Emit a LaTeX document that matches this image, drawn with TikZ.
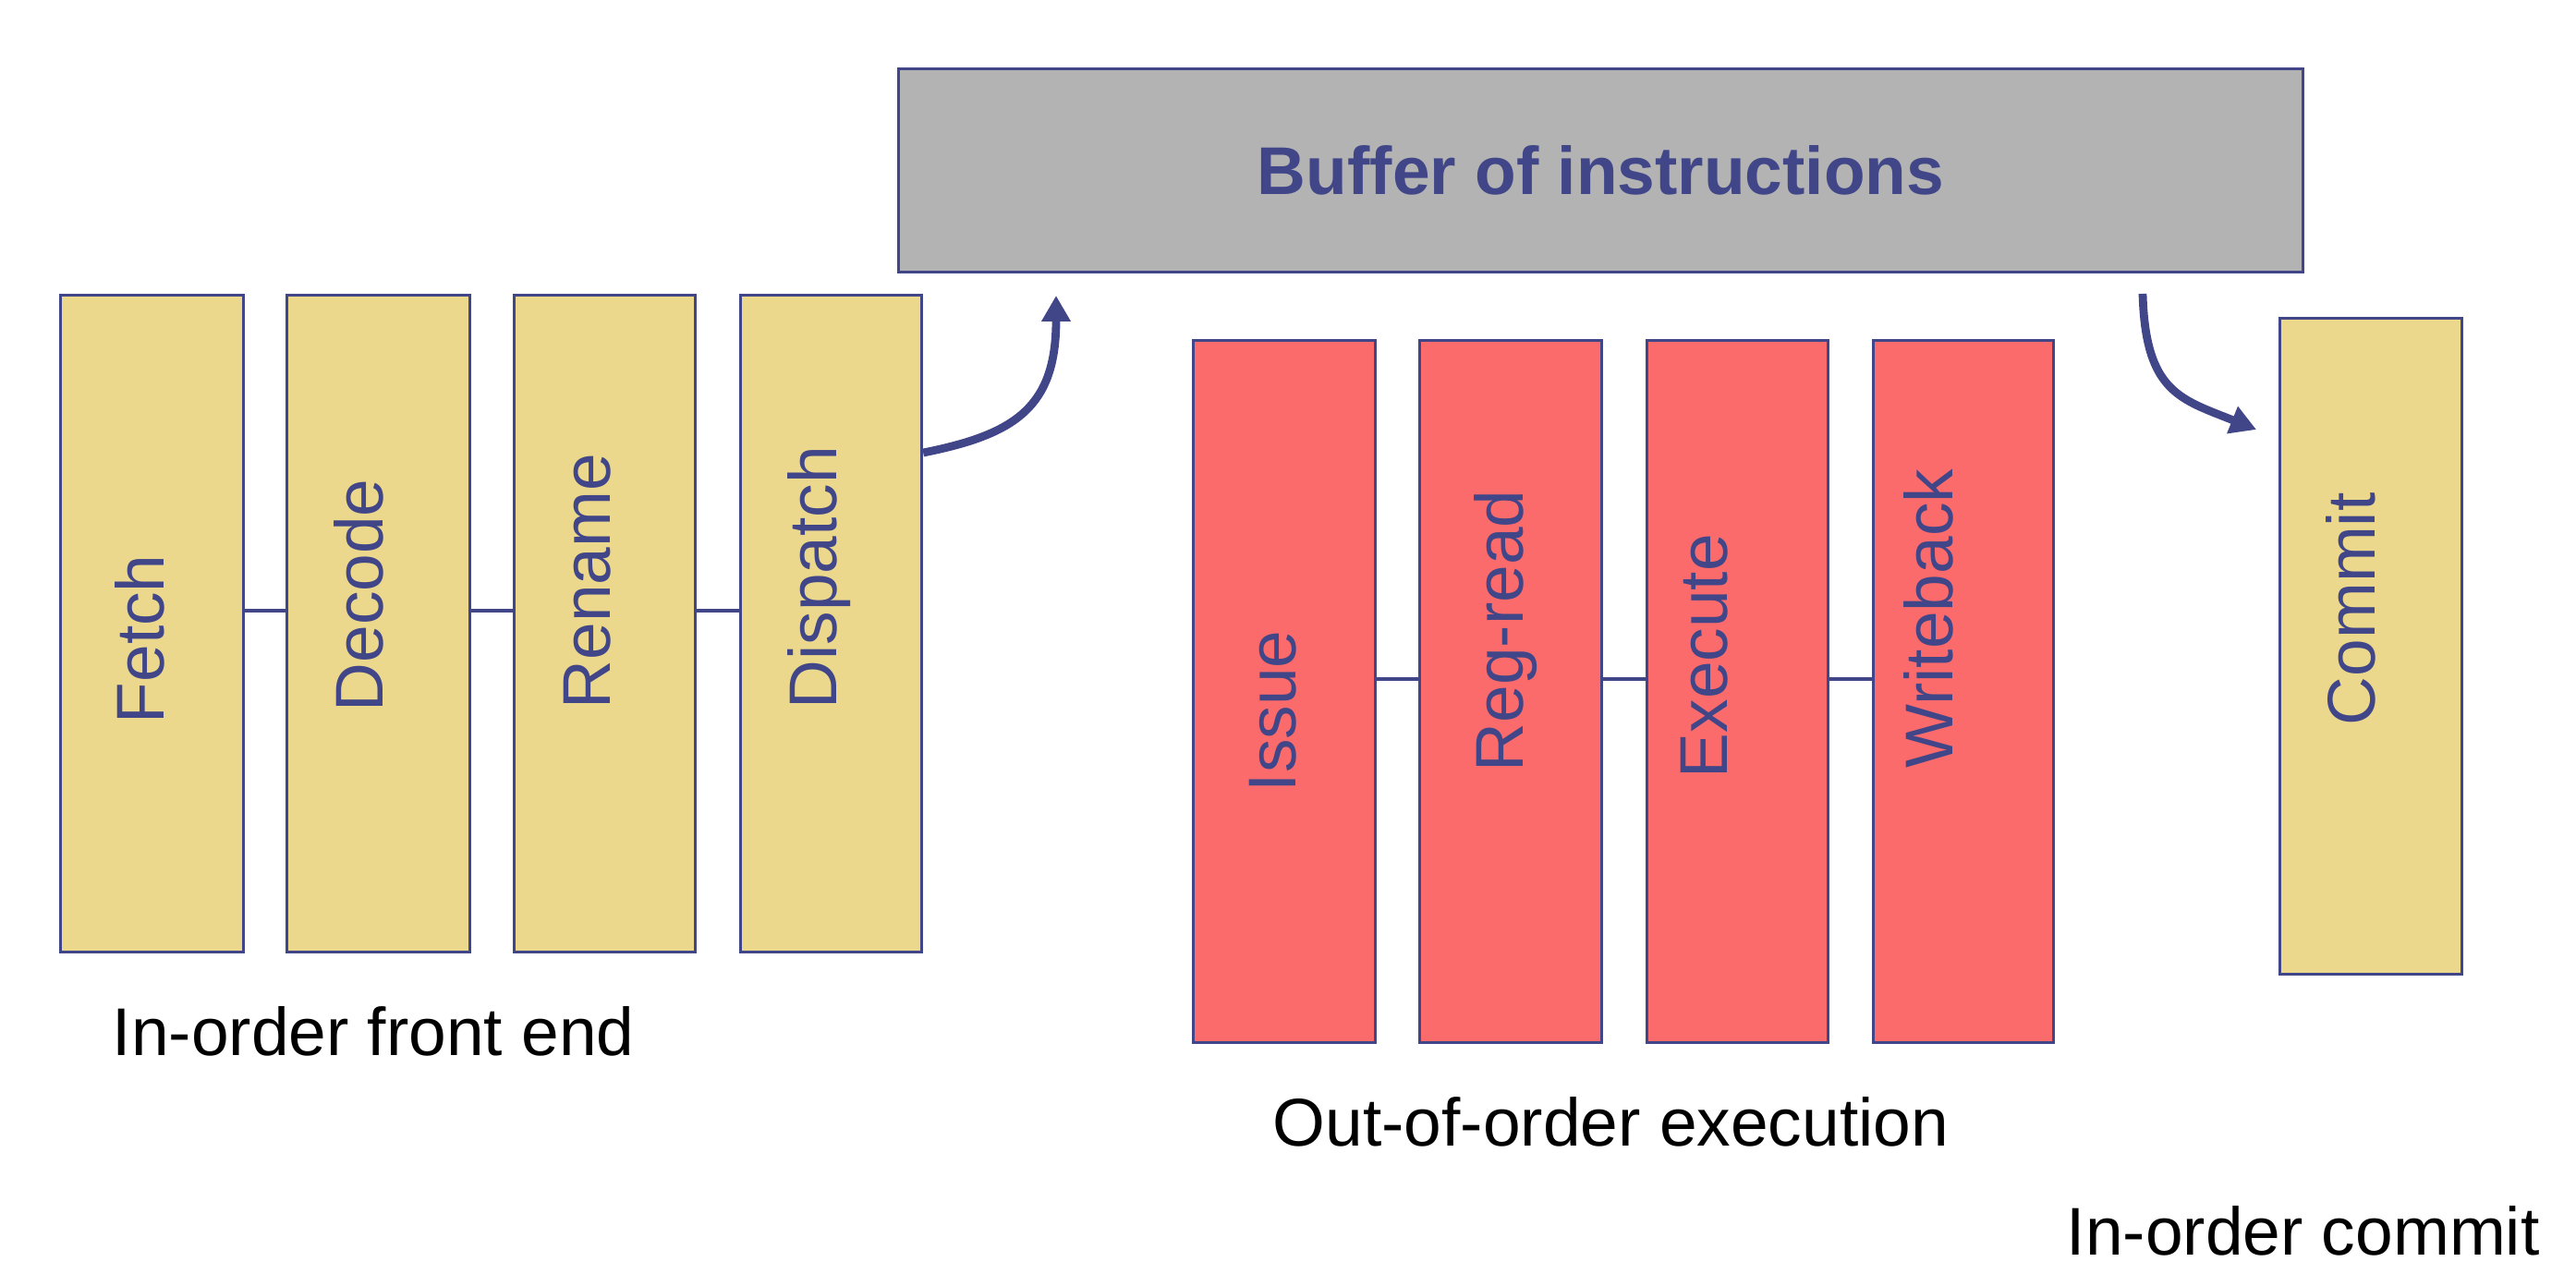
\documentclass[tikz,border=0pt]{standalone}
\usepackage{fontspec}
\setmainfont{Liberation Sans}
\usetikzlibrary{arrows.meta}
\definecolor{yel}{RGB}{236,216,141}
\definecolor{redb}{RGB}{252,107,107}
\definecolor{grayb}{RGB}{179,179,179}
\definecolor{bl}{RGB}{64,70,136}
\begin{document}
\begin{tikzpicture}[
  box/.style={draw=bl, line width=0.9pt, inner sep=0, anchor=north west},
  ybox/.style={box, fill=yel},
  rbox/.style={box, fill=redb},
  boxtext/.style={rotate=90, anchor=base west, inner sep=0, text=bl, font=\fontsize{20.8}{25}\selectfont},
  lab/.style={anchor=base west, inner sep=0, text=black, font=\fontsize{20.8}{25}\selectfont},
  conn/.style={draw=bl, line width=0.9pt},
  bigarrow/.style={draw=bl, line width=2.5pt, -{Triangle[length=0.28cm,width=0.30cm]}}
]
\useasboundingbox (0,0) rectangle (27.88,-13.92);

% buffer
\node[box, fill=grayb, minimum width=15.20cm, minimum height=2.20cm, text=bl,
      font=\bfseries\fontsize{20.8}{25}\selectfont] (buffer) at (9.71,-0.73) {Buffer of instructions};

% in-order front end
\node[ybox, minimum width=1.98cm, minimum height=7.11cm] (fetch) at (0.64,-3.18) {};
\node[ybox, minimum width=1.98cm, minimum height=7.11cm] (decode) at (3.09,-3.18) {};
\node[ybox, minimum width=1.96cm, minimum height=7.11cm] (rename) at (5.55,-3.18) {};
\node[ybox, minimum width=1.96cm, minimum height=7.11cm] (dispatch) at (8.00,-3.18) {};

% out-of-order
\node[rbox, minimum width=1.97cm, minimum height=7.60cm] (issue) at (12.90,-3.67) {};
\node[rbox, minimum width=1.97cm, minimum height=7.60cm] (regread) at (15.35,-3.67) {};
\node[rbox, minimum width=1.96cm, minimum height=7.60cm] (execute) at (17.81,-3.67) {};
\node[rbox, minimum width=1.95cm, minimum height=7.60cm] (writeback) at (20.26,-3.67) {};

% commit
\node[ybox, minimum width=1.97cm, minimum height=7.10cm] (commit) at (24.66,-3.43) {};

% texts in boxes
\node[boxtext] (tfetch) at (1.77,-7.84) {Fetch};
\node[boxtext] (tdecode) at (4.14,-7.71) {Decode};
\node[boxtext] (trename) at (6.60,-7.68) {Rename};
\node[boxtext] (tdispatch) at (9.05,-7.68) {Dispatch};
\node[boxtext] (tissue) at (14.02,-8.58) {Issue};
\node[boxtext] (tregread) at (16.48,-8.36) {Reg-read};
\node[boxtext] (texecute) at (18.69,-8.43) {Execute};
\node[boxtext] (twriteback) at (21.13,-8.32) {Writeback};
\node[boxtext] (tcommit) at (25.70,-7.86) {Commit};

% connectors
\coordinate (ly) at (0,-6.61);
\coordinate (ry) at (0,-7.35);
\draw[conn] (fetch.east |- ly) -- (decode.west |- ly);
\draw[conn] (decode.east |- ly) -- (rename.west |- ly);
\draw[conn] (rename.east |- ly) -- (dispatch.west |- ly);
\draw[conn] (issue.east |- ry) -- (regread.west |- ry);
\draw[conn] (regread.east |- ry) -- (execute.west |- ry);
\draw[conn] (execute.east |- ry) -- (writeback.west |- ry);

% arrows
\coordinate (a1s) at (0,-4.90);
\coordinate (a1e) at (11.43,-3.20);
\draw[bigarrow] (dispatch.east |- a1s) .. controls (11.0,-4.70) and (11.43,-4.40) .. (a1e);
\coordinate (a2s) at (23.19,-3.18);
\coordinate (a2e) at (24.42,-4.65);
\draw[bigarrow] (a2s) .. controls (23.22,-4.25) and (23.60,-4.32) .. (a2e);

% labels
\node[lab] (lfront) at (1.21,-11.42) {In-order front end};
\node[lab] (looo) at (13.77,-12.40) {Out-of-order execution};
\node[lab] (lcommit) at (22.36,-13.58) {In-order commit};
\end{tikzpicture}
\end{document}
